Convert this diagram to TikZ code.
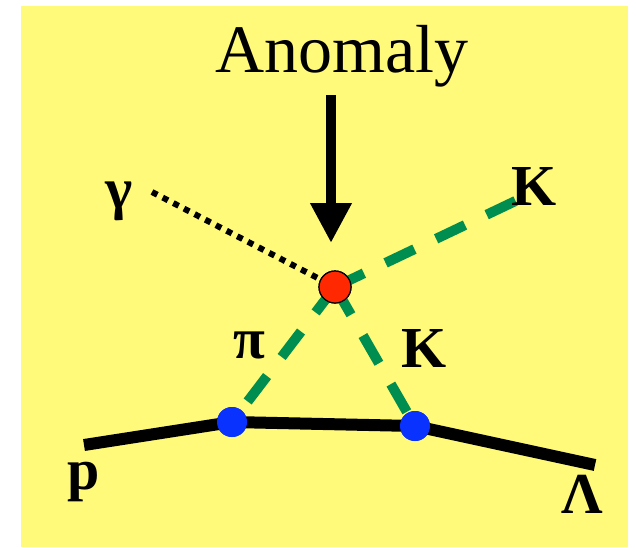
\documentclass[tikz,border=0pt]{standalone}
\usepackage{fontspec}
\setmainfont{Liberation Serif}
\usepackage{xcolor}
\usepackage{tikz}
\usetikzlibrary{arrows.meta, calc}
\definecolor{kyellow}{RGB}{255,250,122}
\definecolor{kgreen}{RGB}{0,142,80}
\definecolor{kred}{RGB}{255,40,0}
\definecolor{kblue}{RGB}{10,50,255}

\begin{document}
\begin{tikzpicture}[x=1pt, y=-1pt,
  lbl/.style={font=\fontsize{58}{60}\selectfont\bfseries, anchor=base, inner sep=0pt},
  meson/.style={kgreen, line width=10pt, dash pattern=on 32pt off 24pt},
  track/.style={black, line width=12pt},
  vtx/.style={circle, fill=kblue, minimum size=30pt, inner sep=0pt},
  hit/.style={circle, fill=kred, draw=black, line width=1.2pt, minimum size=32pt, inner sep=0pt}]
\useasboundingbox (0,0) rectangle (636,547);
\fill[white] (0,0) rectangle (636,547);
\fill[kyellow] (21,6) rectangle (628,547);
% points on the tracks
\coordinate (pstart) at (84,445);
\coordinate (lend) at (595,465);
\coordinate (kend) at (528,195);
\coordinate (gstart) at (152,192);
\coordinate (arrtop) at (331,95);
\coordinate (arrtip) at (331,243);
\node[vtx] (vl) at (232,422) {};
\node[vtx] (vr) at (415,426) {};
\node[hit] (red) at (335,287) {};
% tracks
\draw[track] (pstart) -- (vl.center) -- (vr.center) -- (lend);
\draw[meson] (red.center) -- (kend);
\draw[meson] (red.center) -- (vl.center);
\draw[meson] (red.center) -- (vr.center);
\draw[black, line width=6pt, dash pattern=on 6pt off 6pt] (gstart) -- (red.center);
\node[vtx] at (vl) {};
\node[vtx] at (vr) {};
\node[hit] at (red) {};
% anomaly arrow
\draw[line width=10pt, -{Triangle[width=39pt, length=40pt]}] (arrtop) -- (arrtip);
% labels
\node[font=\fontsize{68}{70}\selectfont, anchor=base, inner sep=0pt] (anom) at (342,72) {Anomaly};
\node[lbl] (gam) at (119,208) {γ};
\node[lbl] (kup) at (534,205) {K};
\node[lbl] (pi) at (249,358) {π};
\node[lbl] (klo) at (424,367) {K};
\node[lbl] (prot) at (84,489) {p};
\node[lbl] (lam) at (582,513) {Λ};
\end{tikzpicture}
\end{document}
